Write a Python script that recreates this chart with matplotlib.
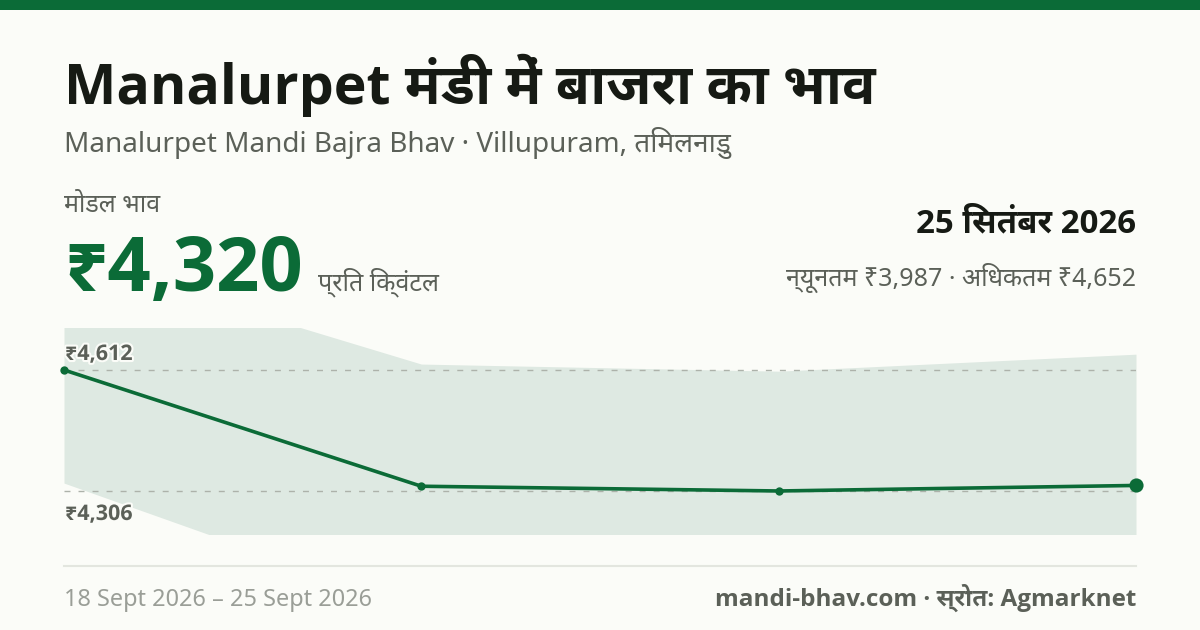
import re
import matplotlib
matplotlib.use("Agg")
import matplotlib.pyplot as plt
import matplotlib.patheffects as pe
from matplotlib.patches import Rectangle
from matplotlib.lines import Line2D

# ---- data ----
dates = ["18 Sept", "20 Sept", "23 Sept", "25 Sept"]
modal = [4612, 4318, 4306, 4320]
upper = [4900, 4627, 4609, 4652]
lower = [4326, 4005, 4000, 3987]
ref_high = 4612
ref_low = 4306

TITLE = "Manalurpet मंडी में बाजरा का भाव"
SUBTITLE = "Manalurpet Mandi Bajra Bhav · Villupuram, तमिलनाडु"
MODAL_LABEL = "मोडल भाव"
PRICE = "₹4,320"
UNIT = "प्रति क्विंटल"
DATE = "25 सितंबर 2026"
RANGE = "न्यूनतम ₹3,987 · अधिकतम ₹4,652"
LABEL_HIGH = "₹4,612"
LABEL_LOW = "₹4,306"
PERIOD = "18 Sept 2026 – 25 Sept 2026"
SOURCE = "mandi-bhav.com · स्रोत: Agmarknet"

# ---- style ----
BG = "#fbfcf8"
GREEN = "#0b6b37"
BAND = "#dee9e2"
DARK = "#161a14"
GREY = "#5b6058"
FAINT = "#9a9e97"
RULE = "#e3e6df"
DASH = "#adb2aa"
W, H = 1200, 630
REGULAR = ["Noto Sans", "Noto Sans Devanagari UI", "DejaVu Sans"]
BOLD = ["Open Sans", "Noto Sans Devanagari UI", "DejaVu Sans"]

plt.rcParams["font.family"] = REGULAR

fig = plt.figure(figsize=(W / 100, H / 100), dpi=100, facecolor=BG)


def shaped(s):
    """matplotlib does not reorder Indic text: put the ि sign in its visual slot."""
    return re.sub(r"((?:[क-ह]्)*[क-ह])ि", r"ि\1", s)


def put(px, py, s, size_px, color, weight="normal", ha="left"):
    return fig.text(px / W, 1 - py / H, shaped(s), fontsize=size_px * 0.72, color=color,
                    fontweight=weight, ha=ha, va="baseline",
                    family=BOLD if weight == "bold" else REGULAR)


fig.add_artist(Rectangle((0, 1 - 10 / H), 1, 10 / H, transform=fig.transFigure,
                         facecolor=GREEN, edgecolor="none"))

put(64, 104, TITLE, 55.5, DARK, "bold")
put(64, 152, SUBTITLE, 27.9, GREY)
put(64, 212, MODAL_LABEL, 25, GREY)
put(64, 291, PRICE, 76, GREEN, "bold")
put(318, 290, UNIT, 25, GREY)
put(1136, 232, DATE, 33, DARK, "bold", ha="right")
put(1136, 286, RANGE, 25, GREY, ha="right")
put(64, 606, PERIOD, 23.5, FAINT)
put(1136, 606, SOURCE, 24.2, GREY, "bold", ha="right")

# chart: 64..1136 px across, 328..534 px down
ax = fig.add_axes([64 / W, 1 - 534 / H, (1136 - 64) / W, (534 - 328) / H])
ax.set_facecolor("none")
for s in ax.spines.values():
    s.set_visible(False)
ax.set_xticks([])
ax.set_yticks([])
x = list(range(len(dates)))
ax.set_xlim(0, len(dates) - 1)
ax.set_ylim(4197.2, 4718.2)

ax.fill_between(x, lower, upper, color=BAND, linewidth=0, zorder=1)
for v in (ref_high, ref_low):
    ax.axhline(v, color=DASH, linewidth=1.0, dashes=(4.3, 5.8), zorder=2)
ax.plot(x, modal, color=GREEN, linewidth=2.6, zorder=3, solid_capstyle="round", clip_on=False)
ax.plot(x[:-1], modal[:-1], "o", color=GREEN, markersize=6.0, markeredgewidth=0, zorder=4, clip_on=False)
ax.plot(x[-1:], modal[-1:], "o", color=GREEN, markersize=10.2, markeredgewidth=0, zorder=4, clip_on=False)

halo = [pe.withStroke(linewidth=3, foreground=BG)]
for py, s in ((360, LABEL_HIGH), (520, LABEL_LOW)):
    t = put(65, py, s, 21.5, GREY, "bold")
    t.set_path_effects(halo)
    t.set_zorder(6)

fig.add_artist(Line2D([64 / W, 1136 / W], [1 - 566 / H, 1 - 566 / H], transform=fig.transFigure,
                      color=RULE, linewidth=1.5))

fig.savefig("out.png", dpi=100, facecolor=BG)
